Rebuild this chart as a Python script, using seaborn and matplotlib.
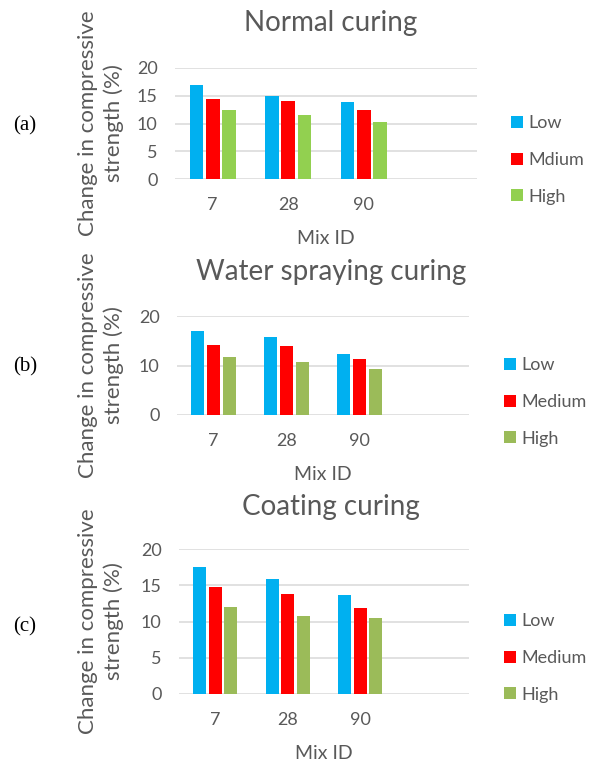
import numpy as np
import pandas as pd
import matplotlib
matplotlib.use("Agg")
import matplotlib.pyplot as plt
import seaborn as sns

# ---------------- data ----------------
days = ["7", "28", "90"]
levels_a = ["Low", "Mdium", "High"]
levels_bc = ["Low", "Medium", "High"]

normal_low = [16.9, 15.0, 13.9]
normal_med = [14.5, 14.1, 12.4]
normal_high = [12.4, 11.5, 10.2]

spray_low = [16.9, 15.8, 12.4]
spray_med = [14.1, 13.9, 11.4]
spray_high = [11.8, 10.7, 9.3]

coat_low = [17.5, 15.8, 13.7]
coat_med = [14.8, 13.8, 11.9]
coat_high = [12.0, 10.7, 10.5]

titles = ["Normal curing", "Water spraying curing", "Coating curing"]
panel_labels = ["(a)", "(b)", "(c)"]
yticks_a = [0, 5, 10, 15, 20]
yticks_b = [0, 10, 20]
yticks_c = [0, 5, 10, 15, 20]
ylabel = "Change in compressive\nstrength (%)"
xlabel = "Mix ID"

# ---------------- style ----------------
sns.set_theme(style="white")
plt.rcParams["font.family"] = ["Lato", "DejaVu Sans"]
TXT = "#595959"
GRID = "#D9D9D9"
C_LOW = "#00B0F0"
C_MED = "#FF0000"
C_HIGH_A = "#92D050"
C_HIGH_BC = "#9BBB59"

W, H = 597, 762
fig = plt.figure(figsize=(W / 100, H / 100), dpi=100)


def fx(px):
    return px / W


def fy(py):
    return 1 - py / H


panels = [
    dict(vals=(normal_low, normal_med, normal_high), levels=levels_a,
         colors=(C_LOW, C_MED, C_HIGH_A), yticks=yticks_a,
         box=(175, 477, 68, 179), title_y=23, label_y=126, leg_x=511, leg_y=160),
    dict(vals=(spray_low, spray_med, spray_high), levels=levels_bc,
         colors=(C_LOW, C_MED, C_HIGH_BC), yticks=yticks_b,
         box=(177, 469, 316, 415), title_y=272, label_y=367, leg_x=504, leg_y=402),
    dict(vals=(coat_low, coat_med, coat_high), levels=levels_bc,
         colors=(C_LOW, C_MED, C_HIGH_BC), yticks=yticks_c,
         box=(179, 469, 549, 694), title_y=507, label_y=627, leg_x=504, leg_y=658),
]

for i, p in enumerate(panels):
    l, r, t, b = p["box"]
    ax = fig.add_axes([fx(l), fy(b), fx(r) - fx(l), fy(t) - fy(b)])
    rows = []
    for lev, series in zip(p["levels"], p["vals"]):
        for d, v in zip(days, series):
            rows.append({"Mix ID": d, "value": v, "level": lev})
    df = pd.DataFrame(rows)
    pal = dict(zip(p["levels"], p["colors"]))
    sns.barplot(data=df, x="Mix ID", y="value", hue="level", order=days,
                hue_order=p["levels"], palette=pal, width=0.645, gap=0.16,
                saturation=1, linewidth=0, errorbar=None, ax=ax)
    ax.set_xlim(-0.5, 3.5)
    ax.set_ylim(0, 20)
    ax.set_yticks(p["yticks"])
    ax.set_xticks(range(len(days)))
    ax.set_xticklabels(days)
    ax.yaxis.grid(True, color=GRID, linewidth=1.1)
    ax.set_axisbelow(True)
    for s in ax.spines.values():
        s.set_visible(False)
    ax.tick_params(axis="both", length=0, labelsize=13, colors=TXT)
    ax.tick_params(axis="x", pad=13)
    ax.tick_params(axis="y", pad=12.5)
    ax.set_ylabel("")
    ax.set_xlabel(xlabel, fontsize=14, color=TXT, labelpad=12)
    handles, labels = ax.get_legend_handles_labels()
    ax.legend(handles, labels, loc="center left",
              bbox_to_anchor=(fx(p["leg_x"]), fy(p["leg_y"])),
              bbox_transform=fig.transFigure, frameon=False,
              fontsize=13, labelcolor=TXT, handlelength=0.65,
              handleheight=0.65, handletextpad=0.3, labelspacing=1.15,
              borderpad=0, borderaxespad=0)
    fig.text(fx(331), fy(p["title_y"]), titles[i], ha="center", va="center",
             fontsize=20, color=TXT)
    fig.text(fx(101), fy((t + b) / 2), ylabel, ha="center", va="center",
             rotation=90, fontsize=16, color=TXT, linespacing=1.3,
             multialignment="center")
    fig.text(fx(25), fy(p["label_y"]), panel_labels[i], ha="center",
             va="center", fontsize=15, color="black",
             family=["Liberation Serif", "DejaVu Serif"])

fig.savefig("out.png", dpi=100, facecolor="white")
